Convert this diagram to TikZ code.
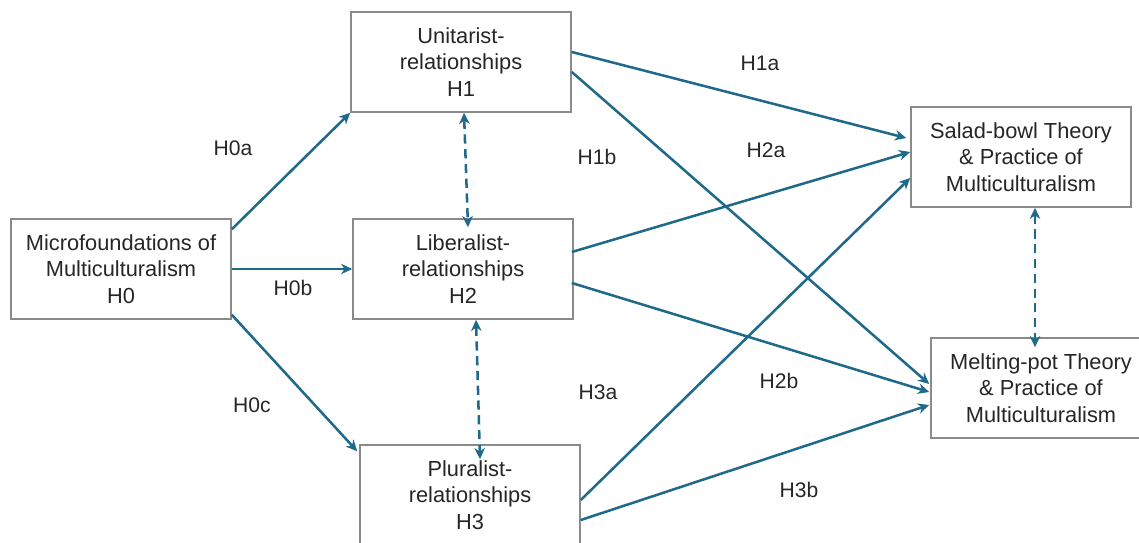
\documentclass[tikz,border=0pt]{standalone}
\usepackage{fontspec}
\setmainfont{Liberation Sans}
\usetikzlibrary{positioning,calc,arrows.meta}
\definecolor{linkblue}{HTML}{1F6A8A}
\definecolor{boxgray}{HTML}{8A8A8A}
\tikzset{%
  every box/.style={
    rectangle,
    draw=boxgray,
    line width=1.1pt,
    fill=white,
    minimum width=5.5cm,
    minimum height=2.5cm,
    align=center,
    font=\fontsize{15.5}{19}\selectfont,
    text=black!85
  },
  link/.style={
    ->,
    draw=linkblue,
    line width=1.8pt
  },
  link both/.style={
    <->,
    draw=linkblue,
    line width=1.8pt,
    dash pattern=on 6.5pt off 4pt
  },
  hyp/.style={
    font=\fontsize{15}{17}\selectfont,
    text=black!85
  },
}

\begin{document}
\begin{tikzpicture}[x=0.025cm, y=-0.025cm, >={Stealth[length=8pt,width=7.5pt]}]
        \useasboundingbox (0,0) rectangle (1139,543);

        \node [every box] (micro) at (121,269) {Microfoundations of\\Multiculturalism\\H0};
        \node [every box] (unit) at (461,62) {Unitarist-\\relationships\\H1};
        \node [every box] (lib) at (463,269) {Liberalist-\\relationships\\H2};
        \node [every box] (plur) at (470,495) {Pluralist-\\relationships\\H3};
        \node [every box] (salad) at (1021,157) {Salad-bowl Theory\\\& Practice of\\Multiculturalism};
        \node [every box] (melt) at (1041,388) {Melting-pot Theory\\\& Practice of\\Multiculturalism};

        % from H0
        \draw [link] ($(micro.north east)+(0,11)$) -- (unit.south west);
        \draw [link, line width=0.8pt] (micro.east) -- (lib.west);
        \draw [link] ($(micro.south east)+(0,-5)$) -- ($(plur.north west)+(-2,7)$);

        % to the two theories
        \draw [link] ($(unit.east)+(0,-10)$) -- ($(salad.west)+(-4,-19)$);
        \draw [link] ($(unit.east)+(0,10)$) -- ($(melt.west)+(-1,-4)$);
        \draw [link] ($(lib.east)+(-2,-17)$) -- ($(salad.west)+(0,-5)$);
        \draw [link] ($(lib.east)+(-2,14)$) -- ($(melt.west)+(-1,4)$);
        \draw [link] ($(plur.east)+(0,5)$) -- ($(salad.west)+(0,21)$);
        \draw [link] ($(plur.east)+(0,25)$) -- ($(melt.west)+(-1,17)$);

        % correlations
        \draw [link both] ($(unit.south)+(3,0)$) -- ($(lib.north)+(5,9)$);
        \draw [link both] ($(lib.south)+(13,0)$) -- ($(plur.north)+(10,15)$);
        \draw [link both] ($(salad.south)+(14,0)$) -- ($(melt.north)+(-6,10)$);

        \foreach \n/\x/\y in {H0a/233/148, H0b/293/288, H0c/252/405, H1a/760/63, H1b/597/157,
                              H2a/766/150, H2b/779/381, H3a/598/392, H3b/799/490}
            \node [hyp] (lab-\n) at (\x,\y) {\n};
\end{tikzpicture}
\end{document}
